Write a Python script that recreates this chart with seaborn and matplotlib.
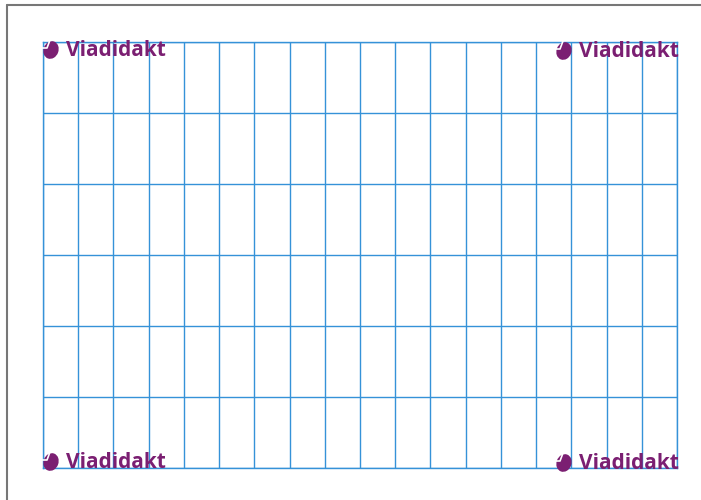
import matplotlib
matplotlib.use("Agg")
import matplotlib.pyplot as plt
import seaborn as sns
from matplotlib.patches import Ellipse
from matplotlib.lines import Line2D

# Grid divisions (columns and rows of the answer sheet)
col_ticks = list(range(0, 19))
row_ticks = list(range(0, 7))

# Logo placements (pixel positions of the icon centre)
logo_text = "Viadidakt"
logo_x = [51, 564, 51, 564]
logo_y = [50, 51, 462, 463]

W, H = 701, 500
grid_color = "#3592d8"
purple = "#7b1f72"

sns.set_style("white")
plt.rcParams['font.family'] = ['Open Sans', 'DejaVu Sans']

fig = plt.figure(figsize=(W / 100, H / 100), dpi=100)
ax = fig.add_axes([43 / W, 1 - 468 / H, (677 - 43) / W, (468 - 42) / H])
ax.set_xlim(col_ticks[0], col_ticks[-1])
ax.set_ylim(row_ticks[0], row_ticks[-1])
ax.set_xticks(col_ticks)
ax.set_yticks(row_ticks)
ax.grid(True, color=grid_color, linewidth=1.0)
ax.tick_params(length=0, labelbottom=False, labelleft=False)
for s in ax.spines.values():
    s.set_color(grid_color)
    s.set_linewidth(1.0)

# page border
fig.add_artist(Line2D([7 / W, 1], [1 - 5 / H, 1 - 5 / H], transform=fig.transFigure,
                      color="#777777", linewidth=1.5))
fig.add_artist(Line2D([7 / W, 7 / W], [1 - 5 / H, 0], transform=fig.transFigure,
                      color="#777777", linewidth=1.5))

inch = fig.dpi_scale_trans


def pin(x, y):
    # pixel position (from top-left) -> inches from bottom-left
    return (x / 100, (H - y) / 100)


for cx, cy in zip(logo_x, logo_y):
    e = Ellipse(pin(cx, cy), 0.15, 0.18, angle=-20, transform=inch,
                facecolor=purple, edgecolor="none", zorder=5)
    fig.add_artist(e)
    # white notch in the icon
    pts = [pin(cx - 9, cy - 2), pin(cx - 4, cy - 2), pin(cx - 1, cy - 10)]
    fig.add_artist(Line2D([p[0] for p in pts], [p[1] for p in pts], transform=inch,
                          color="white", linewidth=1.2, zorder=6))
    tx, ty = pin(cx + 15, cy + 6)
    fig.text(tx / (W / 100), ty / (H / 100), logo_text, color=purple, fontsize=15,
             fontweight="bold", ha="left", va="baseline", zorder=7)

fig.savefig("out.png", dpi=100)
